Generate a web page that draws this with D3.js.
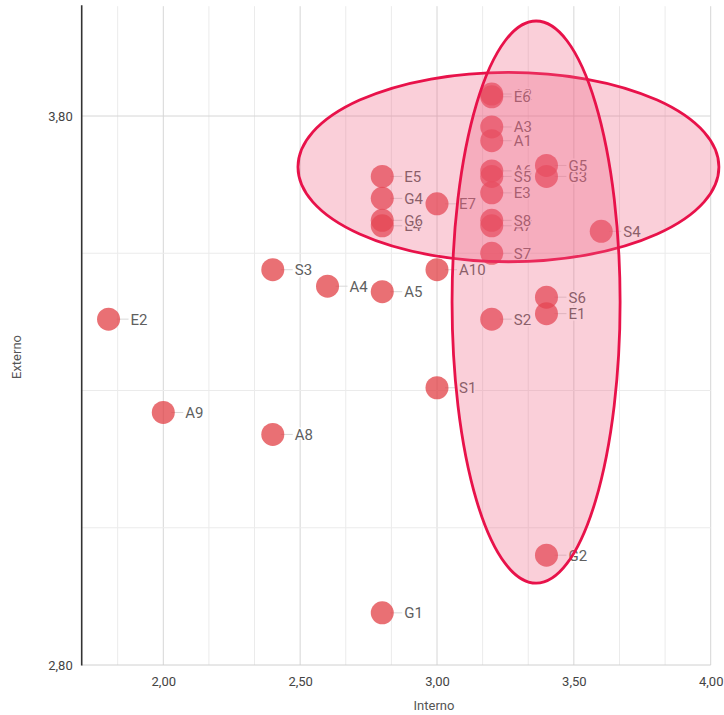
<!DOCTYPE html>
<html><head><meta charset="utf-8">
<script src="https://cdn.jsdelivr.net/npm/d3@7/dist/d3.min.js"></script>
<style>
html,body{margin:0;padding:0;background:#fff;}
svg{display:block;font-family:Roboto,"Noto Sans",Arial,sans-serif;}
</style></head>
<body>
<svg id="chart" width="724" height="715"></svg>
<script>
// ---- data ----
const labels  = ["E2","A9","A8","S3","A4","A5","G1","S1","A10","S2","E4","G6","G4","E5","E7",
                 "A2","E6","A3","A1","A6","S5","E3","A7","S8","S7","G3","G5","S4","E1","S6","G2"];
const interno = [1.8,2.0,2.4,2.4,2.6,2.8,2.8,3.0,3.0,3.2,2.8,2.8,2.8,2.8,3.0,
                 3.2,3.2,3.2,3.2,3.2,3.2,3.2,3.2,3.2,3.2,3.4,3.4,3.6,3.4,3.4,3.4];
const externo = [3.43,3.26,3.22,3.52,3.49,3.48,2.895,3.305,3.52,3.43,3.60,3.61,3.65,3.69,3.64,
                 3.84,3.835,3.78,3.755,3.70,3.69,3.66,3.60,3.61,3.55,3.69,3.71,3.59,3.44,3.47,3.00];
const xTickValues = [2.0,2.5,3.0,3.5,4.0];
const yTickValues = [2.8,3.8];
// highlight ellipses in data units: [cx, cy, rx, ry]
const ellipseH = [3.261,3.707,0.769,0.1725];
const ellipseV = [3.362,3.461,0.307,0.512];

// ---- layout ----
const svg = d3.select("#chart");
const L = 81.7, R = 710.7, B = 665;
const x = d3.scaleLinear().domain([2.0,4.0]).range([163.3,710.7]);
const y = d3.scaleLinear().domain([2.8,3.8]).range([B,116]);
const yMax = 4.0;

const fmt = d3.format(".2f");
const fmtComma = v => fmt(v).replace(".", ",");

// gridlines
const g = svg.append("g");
const minorX = d3.range(0,14).map(i => 1.8333333 + i/6).filter(v => v <= 4.001);
g.selectAll(".vx").data(minorX).join("line")
  .attr("x1", d=>x(d)).attr("x2", d=>x(d)).attr("y1", y(yMax)).attr("y2", B)
  .attr("stroke", d => (Math.abs(d*2 - Math.round(d*2)) < 0.01) ? "#d6d6d6" : "#ebebeb")
  .attr("stroke-width", 1);
const gridY = [3.05,3.30,3.55,3.80];
g.selectAll(".hy").data(gridY).join("line")
  .attr("x1", L).attr("x2", R).attr("y1", d=>y(d)).attr("y2", d=>y(d))
  .attr("stroke", d => d===3.80 ? "#d6d6d6" : "#ebebeb").attr("stroke-width", 1);

// baseline & axis
svg.append("line").attr("x1",L).attr("x2",R).attr("y1",B).attr("y2",B)
  .attr("stroke","#d0d0d0").attr("stroke-width",1);
svg.append("line").attr("x1",L).attr("x2",L).attr("y1",y(yMax)-1).attr("y2",B+0.5)
  .attr("stroke","#333").attr("stroke-width",1.6);

// tick labels using d3 axes
const xAxis = d3.axisBottom(x).tickValues(xTickValues).tickFormat(fmtComma).tickSize(0).tickPadding(12);
const xa = svg.append("g").attr("transform",`translate(0,${B})`).call(xAxis);
xa.select(".domain").remove();
xa.selectAll("text").attr("fill","#444").style("font-size","13px").style("font-family","Roboto, sans-serif");

const yAxis = d3.axisLeft(y).tickValues(yTickValues).tickFormat(fmtComma).tickSize(0).tickPadding(9);
const ya = svg.append("g").attr("transform",`translate(${L},0)`).call(yAxis);
ya.select(".domain").remove();
ya.selectAll("text").attr("fill","#444").style("font-size","13px").style("font-family","Roboto, sans-serif");

// axis titles
svg.append("text").attr("x", 434).attr("y", 710).attr("text-anchor","middle")
  .attr("fill","#555").style("font-size","13px").text("Interno");
svg.append("text").attr("transform",`translate(21,357) rotate(-90)`).attr("text-anchor","middle")
  .attr("fill","#555").style("font-size","13px").text("Externo");

// points
const pts = labels.map((l,i)=>({l, x: interno[i], y: externo[i]}));
const pg = svg.append("g");
pg.selectAll("line.stem").data(pts).join("line")
  .attr("x1", d=>x(d.x)+8).attr("x2", d=>x(d.x)+20)
  .attr("y1", d=>y(d.y)).attr("y2", d=>y(d.y))
  .attr("stroke","#d8d8d8").attr("stroke-width",1);
pg.selectAll("circle").data(pts).join("circle")
  .attr("cx", d=>x(d.x)).attr("cy", d=>y(d.y)).attr("r", 11.5)
  .attr("fill","#e0393e").attr("fill-opacity",0.72);
pg.selectAll("text").data(pts).join("text")
  .attr("x", d=>x(d.x)+22).attr("y", d=>y(d.y)+5.5)
  .attr("fill","#5f5f5f").style("font-size","15px")
  .attr("stroke","#fff").attr("stroke-width",3).attr("stroke-linejoin","round")
  .style("paint-order","stroke")
  .text(d=>d.l);

// ellipses overlay
const sx = x(1)-x(0), sy = y(0)-y(1);
[ellipseH, ellipseV].forEach(e=>{
  svg.append("ellipse")
    .attr("cx", x(e[0])).attr("cy", y(e[1]))
    .attr("rx", e[2]*sx).attr("ry", e[3]*sy)
    .attr("fill","#f06080").attr("fill-opacity",0.3)
    .attr("stroke","#e8124a").attr("stroke-width",2.8);
});
</script>
</body></html>
